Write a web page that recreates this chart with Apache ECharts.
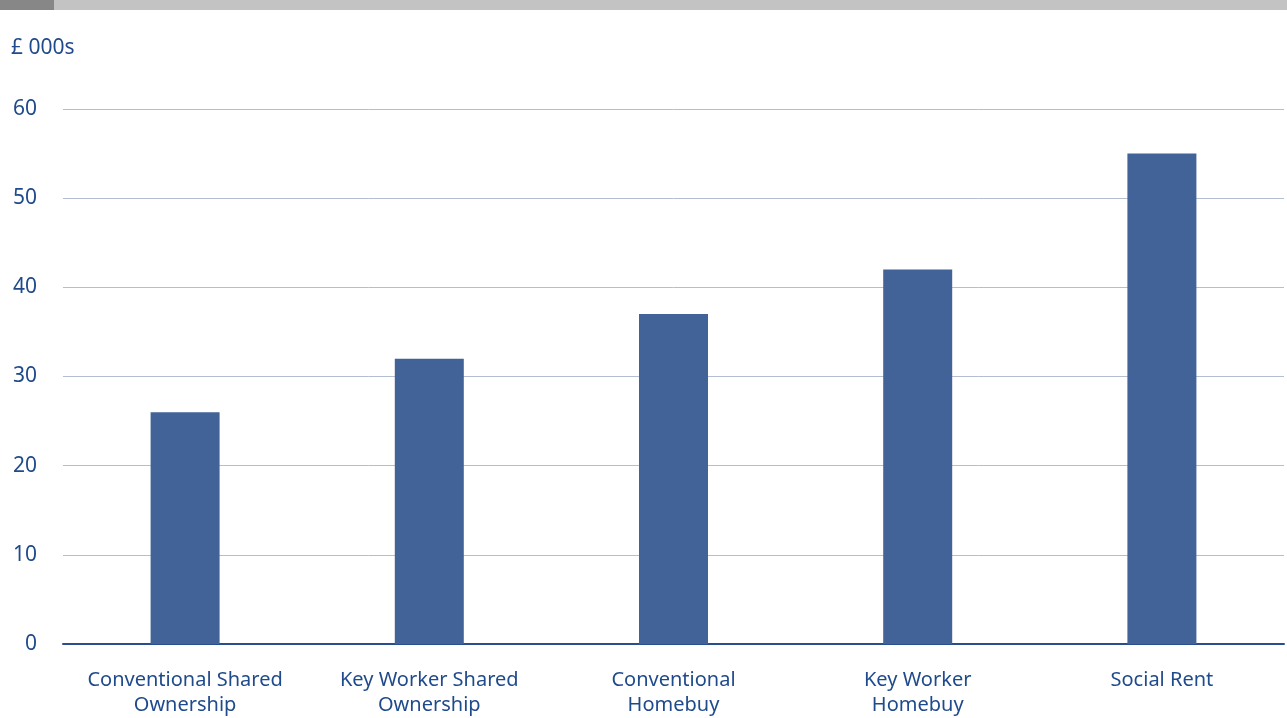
<!DOCTYPE html>
<html>
<head>
<meta charset="utf-8">
<script src="https://cdn.jsdelivr.net/npm/echarts@6/dist/echarts.min.js"></script>
<style>
html,body{margin:0;padding:0;background:#fff;}
#main{width:1287px;height:718px;}
</style>
</head>
<body>
<div id="main"></div>
<script>
const categories = ["Conventional Shared\nOwnership", "Key Worker Shared\nOwnership", "Conventional\nHomebuy", "Key Worker\nHomebuy", "Social Rent"];
const values = [26, 32, 37, 42, 55];
const unitLabel = "£ 000s";

const textColor = "#1f4a8b";
const chart = echarts.init(document.getElementById('main'), null, {renderer: 'canvas'});
chart.setOption({
  animation: false,
  backgroundColor: '#ffffff',
  graphic: [
    {type: 'rect', left: 0, top: 0, shape: {width: 1287, height: 10}, style: {fill: '#c3c3c3'}},
    {type: 'rect', left: 0, top: 0, shape: {width: 54, height: 10}, style: {fill: '#878787'}},
    {type: 'text', left: 11, top: 38, style: {text: unitLabel, fill: textColor, font: '21px "Noto Sans"'}}
  ],
  grid: {left: 63, right: 3, top: 109, bottom: 74, containLabel: false},
  xAxis: {
    type: 'category',
    data: categories,
    axisLine: {show: true, lineStyle: {color: '#274f8f', width: 2}},
    axisTick: {show: false},
    axisLabel: {color: textColor, fontFamily: 'Noto Sans', fontSize: 20, lineHeight: 25, margin: 24, interval: 0}
  },
  yAxis: {
    type: 'value',
    min: 0, max: 60, interval: 10,
    axisLine: {show: false},
    axisTick: {show: false},
    splitLine: {lineStyle: {color: '#b3bed3', width: 1}},
    axisLabel: {color: textColor, fontFamily: 'Noto Sans', fontSize: 21, margin: 26}
  },
  series: [{
    type: 'bar',
    data: values,
    barWidth: 69,
    itemStyle: {color: '#426397'}
  }]
});
</script>
</body>
</html>
